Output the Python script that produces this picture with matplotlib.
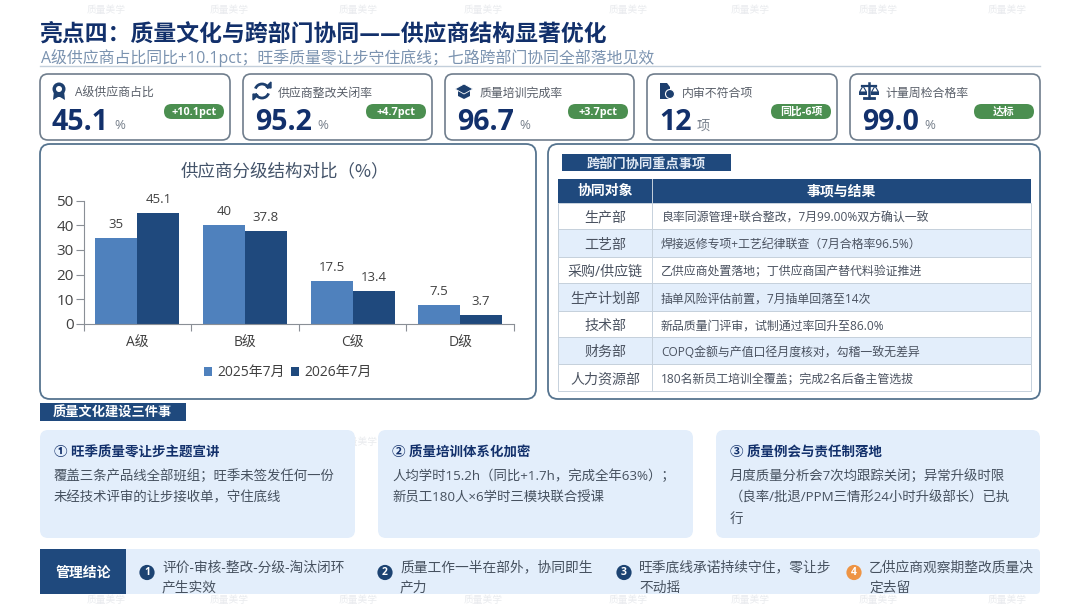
#!/usr/bin/env python3
"""亮点四 slide: KPI cards, supplier grade bars, cross-department table."""

import matplotlib

matplotlib.use('Agg')
import matplotlib.pyplot as plt
from matplotlib.patches import Arc, Circle, FancyBboxPatch, Polygon, Rectangle

plt.rcParams['font.family'] = ['Open Sans', 'Noto Sans CJK SC', 'DejaVu Sans']
CJK_ONLY = ['Noto Sans CJK SC', 'DejaVu Sans']

NAVY = '#1f497d'
DARK_TEXT = '#12306b'
GRAY_TEXT = '#595f69'
BODY_TEXT = '#46515f'
LIGHT = '#e3eefb'
GREEN = '#4b8f50'
BORDER = '#6f7d8c'

# full-width punctuation is written as escapes so it stays full-width
title = '亮点四\uff1a质量文化与跨部门协同\u2014\u2014供应商结构显著优化'
subtitle = 'A级供应商占比同比+10.1pct\uff1b旺季质量零让步守住底线\uff1b七路跨部门协同全部落地见效'
chart_title = '供应商分级结构对比\uff08%\uff09'

# KPI cards
kpi_labels = ['A级供应商占比', '供应商整改关闭率', '质量培训完成率', '内审不符合项', '计量周检合格率']
kpi_values = ['45.1', '95.2', '96.7', '12', '99.0']
kpi_units = ['%', '%', '%', '项', '%']
kpi_badges = ['+10.1pct', '+4.7pct', '+3.7pct', '同比-6项', '达标']

# bar chart
grades = ['A级', 'B级', 'C级', 'D级']
jul_2025 = [35, 40, 17.5, 7.5]
jul_2026 = [45.1, 37.8, 13.4, 3.7]

# table
table_header = ['协同对象', '事项与结果']
departments = ['生产部', '工艺部', '采购/供应链', '生产计划部', '技术部', '财务部', '人力资源部']
results = [
    '良率同源管理+联合整改\uff0c7月99.00%双方确认一致',
    '焊接返修专项+工艺纪律联查\uff087月合格率96.5%\uff09',
    '乙供应商处置落地\uff1b丁供应商国产替代料验证推进',
    '插单风险评估前置\uff0c7月插单回落至14次',
    '新品质量门评审\uff0c试制通过率回升至86.0%',
    'COPQ金额与产值口径月度核对\uff0c勾稽一致无差异',
    '180名新员工培训全覆盖\uff1b完成2名后备主管选拔',
]

# three culture cards
card_titles = ['① 旺季质量零让步主题宣讲', '② 质量培训体系化加密', '③ 质量例会与责任制落地']
card_lines = [
    ['覆盖三条产品线全部班组\uff1b旺季未签发任何一份', '未经技术评审的让步接收单\uff0c守住底线'],
    ['人均学时15.2h\uff08同比+1.7h\uff0c完成全年63%\uff09\uff1b', '新员工180人×6学时三模块联合授课'],
    ['月度质量分析会7次均跟踪关闭\uff1b异常升级时限', '\uff08良率/批退/PPM三情形24小时升级部长\uff09已执', '行'],
]

# conclusions
conclusions = [
    ['评价-审核-整改-分级-淘汰闭环', '产生实效'],
    ['质量工作一半在部外\uff0c协同即生', '产力'],
    ['旺季底线承诺持续守住\uff0c零让步', '不动摇'],
    ['乙供应商观察期整改质量决', '定去留'],
]

watermark = '质量美学'

fig = plt.figure(figsize=(10.8, 6.08), dpi=100, facecolor='white')
ax = fig.add_axes([0, 0, 1, 1])
ax.set_xlim(0, 1080)
ax.set_ylim(608, 0)
ax.axis('off')


def rbox(x0, y0, x1, y1, r, fc='white', ec='none', lw=1.2, z=2):
    ax.add_patch(FancyBboxPatch((x0, y0), x1 - x0, y1 - y0,
                                boxstyle=f'round,pad=0,rounding_size={r}',
                                fc=fc, ec=ec, lw=lw, zorder=z))


def label(x, y, s, size, color=BODY_TEXT, weight='normal', ha='left', z=5, family=None):
    # the Open Sans line box sits a little high, nudge it down with the size
    dy = 0 if family else size * 0.2
    ax.text(x, y + dy, s, fontsize=size, color=color, fontweight=weight,
            ha=ha, va='center', zorder=z, family=family)


def draw_icon(kind, cx, cy):
    c = '#1d3f6e'
    if kind == 0:  # ribbon
        ax.add_patch(Polygon([(cx - 5, cy), (cx - 6, cy + 9), (cx - 1, cy + 6), (cx + 1, cy + 6),
                              (cx + 6, cy + 9), (cx + 5, cy)], fc=c, ec='none', zorder=5))
        ax.add_patch(Circle((cx, cy - 2), 6.5, fc=c, ec='none', zorder=6))
        ax.add_patch(Circle((cx, cy - 2), 3, fc='white', ec='none', zorder=7))
    elif kind == 1:  # refresh arrows
        ax.add_patch(Arc((cx, cy), 14, 14, theta1=200, theta2=340, ec=c, lw=2, zorder=5))
        ax.add_patch(Arc((cx, cy), 14, 14, theta1=20, theta2=160, ec=c, lw=2, zorder=5))
        ax.add_patch(Polygon([(cx + 4, cy - 4), (cx + 9, cy - 9), (cx + 9, cy - 3)], fc=c, ec=c, zorder=5))
        ax.add_patch(Polygon([(cx - 4, cy + 4), (cx - 9, cy + 9), (cx - 9, cy + 3)], fc=c, ec=c, zorder=5))
    elif kind == 2:  # graduation cap
        ax.add_patch(Polygon([(cx - 6, cy), (cx - 6, cy + 5), (cx, cy + 8), (cx + 6, cy + 5), (cx + 6, cy)],
                             fc=c, ec='none', zorder=5))
        ax.add_patch(Polygon([(cx - 9, cy - 2), (cx, cy - 7), (cx + 9, cy - 2), (cx, cy + 3)],
                             fc=c, ec='white', lw=0.6, zorder=6))
    elif kind == 3:  # file with check
        ax.add_patch(Polygon([(cx - 6, cy - 8), (cx + 1, cy - 8), (cx + 4, cy - 4), (cx + 4, cy + 8), (cx - 6, cy + 8)],
                             fc=c, ec='none', zorder=5))
        ax.add_patch(Circle((cx + 4, cy + 3), 4.5, fc=c, ec='white', lw=0.8, zorder=6))
    else:  # scales
        ax.plot([cx - 7, cx + 7], [cy - 5, cy - 5], color=c, lw=1.6, zorder=5)
        ax.plot([cx, cx], [cy - 8, cy + 7], color=c, lw=1.8, zorder=5)
        ax.plot([cx - 5, cx + 5], [cy + 7, cy + 7], color=c, lw=2, zorder=5)
        for sx in (cx - 6, cx + 6):
            ax.add_patch(Polygon([(sx - 3.5, cy + 1), (sx, cy - 5), (sx + 3.5, cy + 1)], fc='white', ec=c, lw=0.8, zorder=5))
            ax.add_patch(Rectangle((sx - 4, cy + 1), 8, 2.5, fc=c, ec='none', zorder=5))


# faint watermark rows; the middle one only shows in the gap between two cards
for wy in (10, 600):
    for wx in (106, 229, 358, 483, 628, 750, 878, 1007):
        ax.text(wx, wy, watermark, fontsize=7, color='#e9ebee', ha='center', va='center', zorder=1)
ax.text(358, 443, watermark, fontsize=7, color='#e9ebee', ha='center', va='center', zorder=1)

label(40, 34, title, 16.45, color=DARK_TEXT, weight='bold', family=CJK_ONLY)
label(41, 56, subtitle, 11.45, color='#7b93b0')
ax.plot([40, 1040], [65.5, 65.5], color='#c3cfdb', lw=1, zorder=3)

# KPI row
card_x = [(40, 230), (243, 432), (445, 634), (647, 837), (850, 1040)]
for i, (x0, x1) in enumerate(card_x):
    rbox(x0, 74, x1, 140, 8, ec=BORDER, lw=1.2)
    draw_icon(i, x0 + 19, 91)
    label(x0 + 35, 92, kpi_labels[i], 8.6, color=GRAY_TEXT)
    label(x0 + 12, 118.5, kpi_values[i], 20.5, color=DARK_TEXT, weight='bold')
    unit_x = x0 + 74 if len(kpi_values[i]) > 2 else x0 + 50
    label(unit_x, 124, kpi_units[i], 9.5, color='#77808c')
    rbox(x1 - 66, 104, x1 - 6, 119, 7.5, fc=GREEN, z=4)
    label(x1 - 36, 110.5, kpi_badges[i], 7.8, color='white', weight='bold', ha='center')

# chart panel
rbox(40, 144, 536, 399, 10, ec='#56748f', lw=1.3)
label(285, 171, chart_title, 12.6, color='#44546a', ha='center', family=CJK_ONLY)

chart = fig.add_axes([83.5 / 1080, 1 - 323.7 / 608, 430.5 / 1080, 123 / 608], zorder=3)
chart.patch.set_alpha(0)
positions = list(range(len(grades)))
w = 0.39
b1 = chart.bar([p - w / 2 for p in positions], jul_2025, w, color='#4f81bd', label='2025年7月')
b2 = chart.bar([p + w / 2 for p in positions], jul_2026, w, color=NAVY, label='2026年7月')
chart.bar_label(b1, labels=[f'{v:g}' for v in jul_2025], padding=5, fontsize=9.5, color='#404040')
chart.bar_label(b2, labels=[f'{v:g}' for v in jul_2026], padding=5, fontsize=9.5, color='#404040')
chart.set_xlim(-0.5, 3.5)
chart.set_ylim(0, 50)
chart.set_yticks([0, 10, 20, 30, 40, 50])
chart.set_xticks([-0.5, 0.5, 1.5, 2.5, 3.5])
chart.set_xticklabels([])
chart.set_xticks(positions, labels=grades, minor=True)
chart.tick_params(axis='x', which='minor', length=0, labelsize=10, labelcolor='#404040', pad=9)
chart.tick_params(axis='x', which='major', length=5, color='#8a8f96', width=0.8)
chart.tick_params(axis='y', length=6, color='#8a8f96', width=0.8, labelsize=11, labelcolor='#404040', pad=1)
chart.spines[['top', 'right']].set_visible(False)
chart.spines[['left', 'bottom']].set_color('#8a8f96')
chart.legend(loc='center', bbox_to_anchor=(0.475, -0.40), ncol=2, frameon=False, fontsize=10,
             labelcolor='#404040', handlelength=0.6, handleheight=0.6, handletextpad=0.4, columnspacing=0.4)

# table panel
rbox(548, 144, 1040, 399, 10, ec='#56748f', lw=1.3)
ax.add_patch(Rectangle((562, 154), 169, 17, fc=NAVY, ec='none', zorder=4))
label(646, 162, '跨部门协同重点事项', 9.5, color='#dfe8f3', weight='bold', ha='center')

tx0, tsplit, tx1 = 558, 652, 1031
row_edges = [202.7, 229.3, 256.7, 283.3, 310.7, 337.3, 364.3, 391.3]
ax.add_patch(Rectangle((tx0, 178.5), tx1 - tx0, 24.2, fc=NAVY, ec='none', zorder=3))
label((tx0 + tsplit) / 2, 189, table_header[0], 10, color='white', weight='bold', ha='center')
label((tsplit + tx1) / 2, 189, table_header[1], 10, color='white', weight='bold', ha='center')
for i, (dept, res) in enumerate(zip(departments, results)):
    top, bot = row_edges[i], row_edges[i + 1]
    fc = LIGHT if i % 2 else 'white'
    ax.add_patch(Rectangle((tx0, top), tx1 - tx0, bot - top, fc=fc, ec='#c6d1dc', lw=0.7, zorder=3))
    label((tx0 + tsplit) / 2, (top + bot) / 2, dept, 10.1, color='#4a5260', ha='center')
    label(661, (top + bot) / 2, res, 8.6, color='#4a5260')
ax.plot([tsplit, tsplit], [178.5, row_edges[-1]], color='#c6d1dc', lw=0.7, zorder=4)

# culture section
ax.add_patch(Rectangle((40, 403), 146, 18, fc=NAVY, ec='none', zorder=4))
label(53, 411, '质量文化建设三件事', 9.5, color='white', weight='bold')

culture_x = [(40, 355), (378, 693), (716, 1040)]
for (x0, x1), head, lines in zip(culture_x, card_titles, card_lines):
    rbox(x0, 430, x1, 538, 8, fc=LIGHT)
    label(x0 + 14, 451, head, 9.7, color=DARK_TEXT, weight='bold')
    for n, line in enumerate(lines):
        label(x0 + 14, 474.5 + 21.7 * n, line, 9.65, color=BODY_TEXT)

# bottom strip
rbox(40, 549, 1040, 594, 4, fc=LIGHT)
ax.add_patch(Rectangle((40, 549), 86, 45, fc=NAVY, ec='none', zorder=4))
label(83, 571, '管理结论', 10, color='white', weight='bold', ha='center')
circle_x = [147, 385, 624, 854]
text_x = [162, 400, 639, 869]
for i, lines in enumerate(conclusions):
    col = '#ee9444' if i == 3 else '#1c4372'
    ax.add_patch(Circle((circle_x[i], 572.5), 7.6, fc=col, ec='none', zorder=5))
    label(circle_x[i], 571, str(i + 1), 7.5, color='white', weight='bold', ha='center', z=6)
    label(text_x[i], 566, lines[0], 9.9, color=BODY_TEXT)
    label(text_x[i], 586, lines[1], 9.9, color=BODY_TEXT)

fig.savefig('out.png', dpi=100)
plt.close(fig)
